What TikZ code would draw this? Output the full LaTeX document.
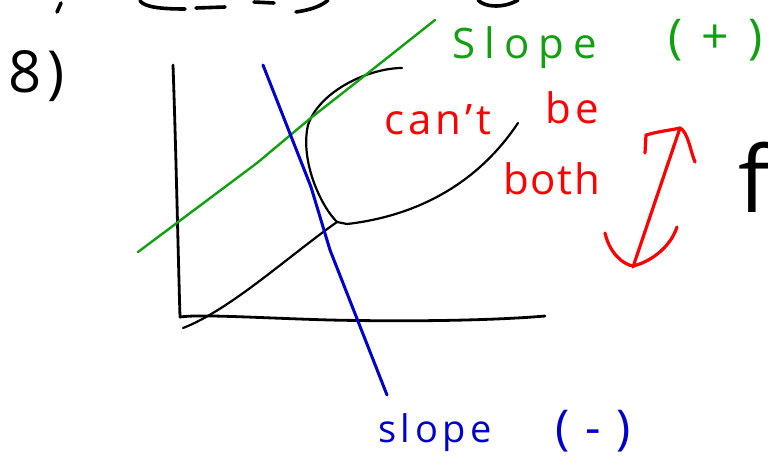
\documentclass[tikz,border=0pt]{standalone}
\usepackage{fontspec}
\setmainfont{Open Sans}
\usepackage{tikz}
\definecolor{penred}{HTML}{FF0000}
\definecolor{pengreen}{HTML}{10A010}
\definecolor{penblue}{HTML}{0000CC}

\tikzset{
  ink/.style={line width=2.2pt, line cap=round, line join=round},
  hand/.style 2 args={font=\fontsize{#1}{#1}\selectfont\addfontfeatures{LetterSpace=#2}, inner sep=0pt, anchor=base west},
}

\begin{document}
\begin{tikzpicture}[x=1pt,y=-1pt]
  \useasboundingbox (0,0) rectangle (768,459);
  % cut-off writing along the top edge
  \draw[ink, line width=3.6pt] (57,12) -- (61,3);
  \draw[ink, line width=3.6pt] (140,1) .. controls (145,7) and (160,9) .. (185,9);
  \draw[ink, line width=3.6pt] (196,8) -- (225,7);
  \draw[ink, line width=3.6pt] (254,2) -- (274,3);
  \draw[ink, line width=3.6pt] (296,12) .. controls (310,10) and (322,6) .. (328,0);
  \draw[ink, line width=3.6pt] (478,0) .. controls (485,8) and (505,8) .. (518,0);
  % axes
  \draw[ink, line width=2.8pt] (173,65) .. controls (176,150) and (178,250) .. (180,317)
    .. controls (200,314) and (260,318) .. (330,320) .. controls (420,322) and (500,320) .. (545,316);
  % curve with its cusp
  \draw[ink] (183,328) .. controls (230,310) and (290,255) .. (337,222);
  \draw[ink] (337,222) .. controls (320,205) and (300,160) .. (308,125)
    .. controls (320,90) and (370,68) .. (402,68);
  \draw[ink] (337,222) -- (347,224) .. controls (400,218) and (470,195) .. (518,123);
  % slope lines
  \draw[ink, pengreen, line width=2.4pt] (138,252) -- (257,163) -- (312,117) -- (363,77) -- (435,20);
  \draw[ink, penblue, line width=3pt] (263,65) -- (311,187) -- (330,250) -- (387,395);
  % double arrow
  \draw[ink, penred, line width=3.2pt] (680,128) -- (633,267);
  \draw[ink, penred, line width=3.2pt] (645,153) -- (646,135) .. controls (660,131) and (672,130) .. (680,128)
    .. controls (688,132) and (690,150) .. (695,162);
  \draw[ink, penred, line width=3.2pt] (605,233) .. controls (610,255) and (625,265) .. (633,266)
    .. controls (650,262) and (670,248) .. (677,227);
  % labels
  \node[hand={58}{10}] (eight) at (8,92) {8)};
  \node[hand={42}{22}] (slopeplus) [text=pengreen] at (452,58) {Slope};
  \node[hand={48}{40}] (plussign) [text=pengreen] at (668,53) {(+)};
  \node[hand={42}{10}] (cant) [text=penred] at (384,134) {can't};
  \node[hand={42}{12}] (be) [text=penred] at (545,123) {be};
  \node[hand={42}{4}] (both) [text=penred] at (503,194) {both};
  \node[hand={38}{12}] (slopeminus) [text=penblue] at (378,442) {slope};
  \node[hand={48}{33}] (minussign) [text=penblue] at (555,444) {(-)};
  \node[hand={92}{0}] (fpart) at (738,212) {f};
\end{tikzpicture}
\end{document}
